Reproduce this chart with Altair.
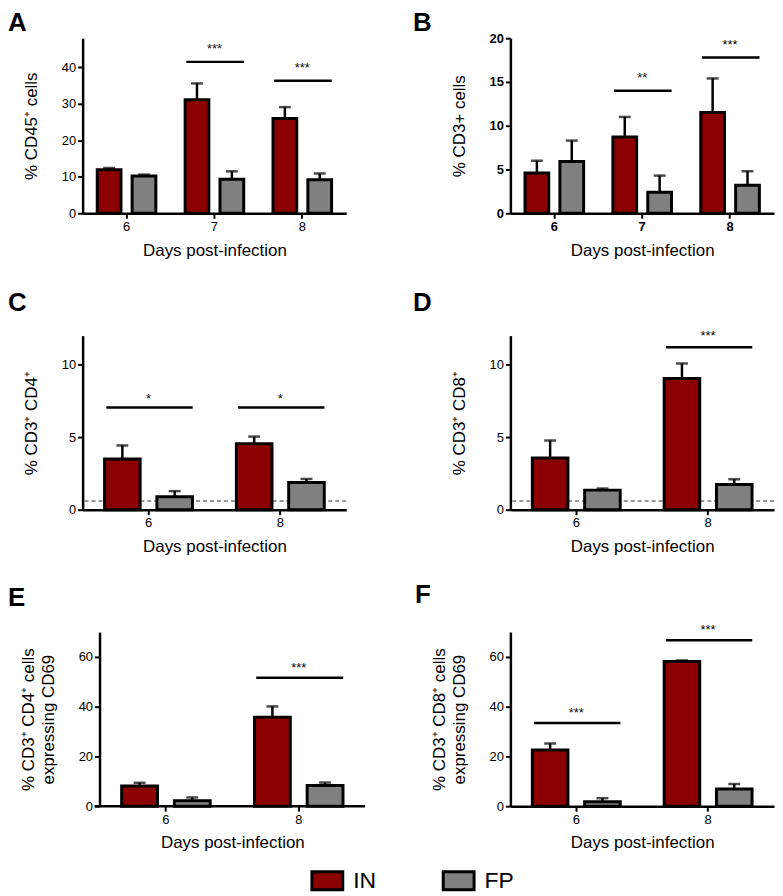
import altair as alt
import pandas as pd

RED = "#8B0000"
GRAY = "#808080"
FONT = "Liberation Sans"
groups = ["IN", "FP"]
xtitle = "Days post-infection"

# ---- Panel A ----
A_days = ["6", "7", "8"]
A_IN = [11.9, 31.1, 26.0]
A_IN_err = [0.5, 4.5, 3.1]
A_FP = [10.2, 9.3, 9.2]
A_FP_err = [0.4, 2.2, 1.7]
A_sig_days = ["7", "8"]
A_sig_line = [41.5, 36.3]
A_sig_star = [45.5, 40.4]
A_sig_text = ["***", "***"]

# ---- Panel B ----
B_days = ["6", "7", "8"]
B_IN = [4.6, 8.7, 11.5]
B_IN_err = [1.4, 2.3, 3.9]
B_FP = [5.9, 2.4, 3.2]
B_FP_err = [2.4, 1.9, 1.6]
B_sig_days = ["7", "8"]
B_sig_line = [14.0, 17.8]
B_sig_star = [15.7, 19.5]
B_sig_text = ["**", "***"]

# ---- Panel C ----
C_days = ["6", "8"]
C_IN = [3.5, 4.55]
C_IN_err = [0.93, 0.49]
C_FP = [0.9, 1.87]
C_FP_err = [0.38, 0.25]
C_sig_days = ["6", "8"]
C_sig_line = [7.05, 7.05]
C_sig_star = [7.8, 7.8]
C_sig_text = ["*", "*"]

# ---- Panel D ----
D_days = ["6", "8"]
D_IN = [3.57, 9.04]
D_IN_err = [1.2, 1.04]
D_FP = [1.35, 1.74]
D_FP_err = [0.11, 0.36]
D_sig_days = ["8"]
D_sig_line = [11.2]
D_sig_star = [12.1]
D_sig_text = ["***"]

# ---- Panel E ----
E_days = ["6", "8"]
E_IN = [8.1, 35.8]
E_IN_err = [1.3, 4.3]
E_FP = [2.2, 8.3]
E_FP_err = [1.3, 1.2]
E_sig_days = ["8"]
E_sig_line = [51.6]
E_sig_star = [56.4]
E_sig_text = ["***"]

# ---- Panel F ----
F_days = ["6", "8"]
F_IN = [22.6, 58.2]
F_IN_err = [2.6, 0.4]
F_FP = [1.8, 6.9]
F_FP_err = [1.4, 2.0]
F_sig_days = ["6", "8"]
F_sig_line = [33.4, 66.7]
F_sig_star = [38.4, 71.6]
F_sig_text = ["***", "***"]

detection_limit = [0.6]


def panel(days, in_v, in_e, fp_v, fp_e, sig_d, sig_l, sig_s, sig_t,
          ytitle, ymax, yticks, w, h, letter, lx, ly, bold=False, dashed=False,
          shift=0):
    bars = pd.DataFrame({
        "day": days * 2,
        "group": ["IN"] * len(days) + ["FP"] * len(days),
        "value": in_v + fp_v,
        "err": in_e + fp_e,
    })
    bars["upper"] = bars["value"] + bars["err"]
    sig = pd.DataFrame({"day": sig_d, "yl": sig_l, "ys": sig_s, "t": sig_t})

    n = len(days)
    if shift:
        # leave `shift` px empty on the left of the band range
        po = shift / 2.0 / ((w - shift) / n)
        xsc = alt.Scale(domain=days, paddingInner=0, paddingOuter=po, align=1)
    else:
        xsc = alt.Scale(domain=days, paddingInner=0, paddingOuter=0)
    osc = alt.Scale(domain=groups, paddingInner=0.32, paddingOuter=0.42)
    ysc = alt.Scale(domain=[0, ymax], nice=False, zero=True)
    lw = "bold" if bold else "normal"
    xax = alt.Axis(title=xtitle, labelAngle=0, labelFontWeight=lw, titlePadding=9,
                   titleX=(w + shift) / 2.0, domain=(shift == 0))
    if shift:
        yax = alt.Axis(title=ytitle, values=yticks, labelFontWeight=lw, offset=-shift,
                       titlePadding=21)
    else:
        yax = alt.Axis(title=ytitle, values=yticks, labelFontWeight=lw, titlePadding=21)

    def X(**kw):
        return alt.X("day:N", scale=xsc, sort=days, axis=xax, **kw)

    def Y(f):
        return alt.Y(f, scale=ysc, axis=yax)

    XO = alt.XOffset("group:N", scale=osc, sort=groups)
    col = alt.Color("group:N",
                    scale=alt.Scale(domain=groups, range=[RED, GRAY]),
                    legend=alt.Legend(title=None, orient="none", legendX=229, legendY=830,
                                      direction="horizontal", padding=0,
                                      symbolType="M-1,-0.58H1V0.58H-1Z", symbolSize=961,
                                      symbolStrokeWidth=3, symbolStrokeColor="black",
                                      symbolOpacity=1,
                                      labelFont=FONT, labelFontSize=23, labelOffset=9,
                                      columnPadding=61, labelColor="black"))

    base = alt.Chart(bars)
    layers = []
    if dashed:
        dl = alt.Chart(pd.DataFrame({"v": detection_limit})).mark_rule(
            color="#777777", strokeWidth=1.5, strokeDash=[4, 3]
        ).encode(y=Y("v:Q"))
        layers.append(dl)
    if shift:
        # x-axis baseline drawn from just left of the shifted y axis
        base_line = alt.Chart(pd.DataFrame({"v": [0]})).mark_rule(
            color="black", strokeWidth=2.5).encode(
            y=Y("v:Q"), x=alt.value(shift - 5), x2=alt.value(w))
        layers.append(base_line)
    err_rule = base.mark_rule(color="black", strokeWidth=2.5).encode(
        x=X(), xOffset=XO, y=Y("value:Q"), y2="upper:Q")
    err_cap = base.mark_tick(color="black", size=12, thickness=2.5).encode(
        x=X(), xOffset=XO, y=Y("upper:Q"))
    bar = base.mark_bar(stroke="black", strokeWidth=3, opacity=1).encode(
        x=X(), xOffset=XO, y=Y("value:Q"), color=col)
    sig_rule = alt.Chart(sig).mark_rule(color="black", strokeWidth=2.5).encode(
        x=X(bandPosition=0.18),
        x2=alt.X2("day", bandPosition=0.835),
        y=Y("yl:Q"))
    stars = alt.Chart(sig).mark_text(fontSize=13, font=FONT, baseline="alphabetic",
                                     dy=6, color="black").encode(
        x=X(), y=Y("ys:Q"), text="t:N")
    lett = alt.Chart(pd.DataFrame({"t": [letter]})).mark_text(
        fontSize=26, fontWeight="bold", font=FONT, align="left",
        baseline="alphabetic", color="black").encode(
        x=alt.value(lx), y=alt.value(ly), text="t:N")
    layers += [err_rule, err_cap, bar, sig_rule, stars, lett]
    return alt.layer(*layers).properties(width=w, height=h)


pA = panel(A_days, A_IN, A_IN_err, A_FP, A_FP_err, A_sig_days, A_sig_line, A_sig_star,
           A_sig_text, "% CD45⁺ cells", 48, [0, 10, 20, 30, 40], 265, 176, "A", -75, -7)
pB = panel(B_days, B_IN, B_IN_err, B_FP, B_FP_err, B_sig_days, B_sig_line, B_sig_star,
           B_sig_text, "% CD3+ cells", 20, [0, 5, 10, 15, 20], 265, 176, "B", -98, -7,
           bold=True)
pC = panel(C_days, C_IN, C_IN_err, C_FP, C_FP_err, C_sig_days, C_sig_line, C_sig_star,
           C_sig_text, "% CD3⁺ CD4⁺", 12, [0, 5, 10], 265, 175, "C", -75, -25,
           dashed=True)
pD = panel(D_days, D_IN, D_IN_err, D_FP, D_FP_err, D_sig_days, D_sig_line, D_sig_star,
           D_sig_text, "% CD3⁺ CD8⁺", 12, [0, 5, 10], 265, 175, "D", -98, -25,
           dashed=True)
pE = panel(E_days, E_IN, E_IN_err, E_FP, E_FP_err, E_sig_days, E_sig_line, E_sig_star,
           E_sig_text, ["% CD3⁺ CD4⁺ cells", "expressing CD69"], 70, [0, 20, 40, 60],
           284, 175, "E", -75, -26, shift=17)
pF = panel(F_days, F_IN, F_IN_err, F_FP, F_FP_err, F_sig_days, F_sig_line, F_sig_star,
           F_sig_text, ["% CD3⁺ CD8⁺ cells", "expressing CD69"], 70, [0, 20, 40, 60],
           265, 175, "F", -96, -29)

chart = alt.concat(
    pA, pB, pC, pD, pE, pF, columns=2, spacing={"row": 123, "column": 146},
    bounds="flush",
).resolve_scale(x="independent", y="independent", xOffset="independent").properties(
    padding=0).configure_view(strokeWidth=0).configure_axis(
    domainColor="black", domainWidth=2.5, tickColor="black", tickWidth=2, tickSize=5,
    labelColor="black", titleColor="black", labelFont=FONT, titleFont=FONT,
    labelFontSize=13, titleFontSize=17, titleFontWeight="normal", grid=False,
    labelPadding=2, titleLineHeight=20)

chart.save("out.html", embed_options={"renderer": "svg", "actions": False})
